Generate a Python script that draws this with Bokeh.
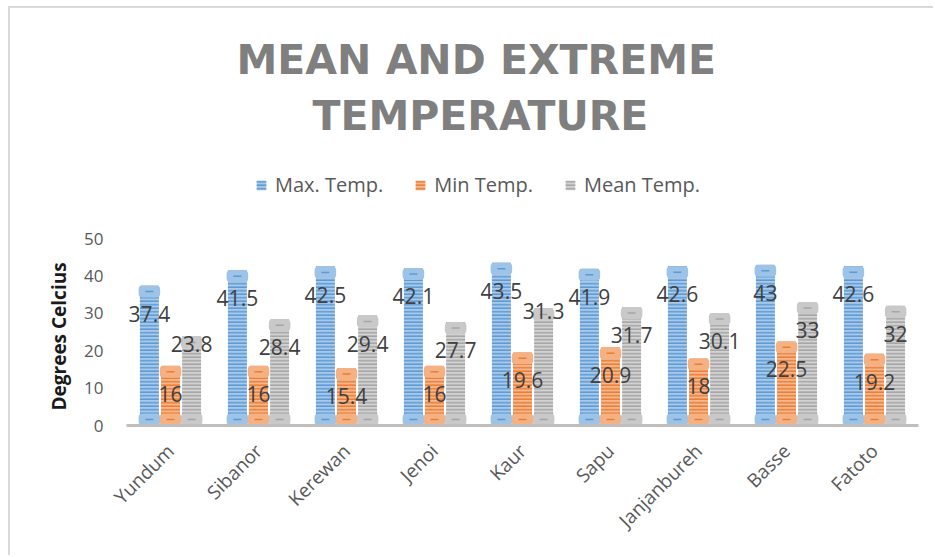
import math
from bokeh.plotting import figure
from bokeh.models import (ColumnDataSource, FactorRange, Range1d, Legend, LegendItem,
                          Title, FixedTicker)
from bokeh.transform import dodge
from bokeh.core.properties import value
from bokeh.embed import file_html
from bokeh.resources import INLINE

# ---------------- data ----------------
stations = ["Yundum", "Sibanor", "Kerewan", "Jenoi", "Kaur", "Sapu",
            "Janjanbureh", "Basse", "Fatoto"]
max_temp = [37.4, 41.5, 42.5, 42.1, 43.5, 41.9, 42.6, 43, 42.6]
min_temp = [16, 16, 15.4, 16, 19.6, 20.9, 18, 22.5, 19.2]
mean_temp = [23.8, 28.4, 29.4, 27.7, 31.3, 31.7, 30.1, 33, 32]
series_names = ["Max. Temp.", "Min Temp.", "Mean Temp."]
y_ticks = [0, 10, 20, 30, 40, 50]
title_lines = ["MEAN AND EXTREME", "TEMPERATURE"]
y_label = "Degrees Celcius"

# ---------------- styling / layout ----------------
series = [("max", max_temp), ("min", min_temp), ("mean", mean_temp)]
offsets = [-0.24, 0.0, 0.24]
bar_width = 0.215
cap_width = 0.245
styles = {
    "max": dict(dark="#5b9bd5", light="#a9c8ea", cap="#9dc3e6"),
    "min": dict(dark="#ed7d31", light="#f6b890", cap="#f4b183"),
    "mean": dict(dark="#a5a5a5", light="#d2d2d2", cap="#c9c9c9"),
}
px_per_unit = 187 / 50.0          # pixels per degree on the value axis
frame_px = 281                    # frame height (room for the legend above 50)
y_top = frame_px / px_per_unit
cap_px = 12
label_drop = 7.5                  # data labels sit this far below the bar top
label_lift = {("mean", "Yundum"): 5.6, ("mean", "Kaur"): 6.7}   # labels moved up

data = dict(station=stations)
for key, vals in series:
    data[key] = vals
    data[key + "_lbl"] = [f"{v:g}" for v in vals]
    data[key + "_lbly"] = [v - label_drop + label_lift.get((key, s), 0)
                           for s, v in zip(stations, vals)]
    data[key + "_capy"] = [v - (cap_px / 2) / px_per_unit for v in vals]
    data[key + "_base"] = [(cap_px / 2) / px_per_unit for _ in vals]
src = ColumnDataSource(data)

p = figure(x_range=FactorRange(factors=stations, range_padding=0),
           y_range=Range1d(0, y_top),
           width=925, height=549, output_backend="svg", toolbar_location=None,
           title=None,
           min_border_left=116, min_border_right=17, min_border_top=136,
           min_border_bottom=132,
           background_fill_color="white", border_fill_color="white",
           outline_line_color=None)
p.margin = (6, 0, 0, 8)
p.styles = {"border-top": "2px solid #d9d9d9", "border-left": "2px solid #d9d9d9"}

p.xgrid.visible = False
p.ygrid.visible = False

renderers = []
for (key, vals), off in zip(series, offsets):
    st = styles[key]
    xs = dodge("station", off, range=p.x_range)
    r = p.vbar(x=xs, top=key, width=bar_width, source=src,
               fill_color=st["light"], line_color=None,
               hatch_pattern="horizontal_line", hatch_color=st["dark"],
               hatch_scale=3.5, hatch_weight=1.6)
    renderers.append(r)
    for ycol in (key + "_capy", key + "_base"):
        p.rect(x=xs, y=ycol, width=cap_width, height=cap_px, height_units="screen",
               source=src, fill_color=st["cap"], line_color=None, border_radius=4)
        p.dash(x=xs, y=ycol, size=8, line_color=st["dark"], line_width=1.5, source=src)

for (key, vals), off in zip(series, offsets):
    xs = dodge("station", off, range=p.x_range)
    p.text(x=xs, y=key + "_lbly", text=key + "_lbl", source=src,
           text_align="center", text_baseline="middle",
           text_font=value("Open Sans"), text_font_size="21px", text_color="#404040")

# axes
p.yaxis.ticker = FixedTicker(ticks=y_ticks)
p.yaxis.axis_line_color = None
p.yaxis.major_tick_line_color = None
p.yaxis.minor_tick_line_color = None
p.yaxis.major_tick_out = 0
p.yaxis.major_tick_in = 0
p.yaxis.major_label_standoff = 23
p.yaxis.major_label_text_font = "Open Sans"
p.yaxis.major_label_text_font_size = "17px"
p.yaxis.major_label_text_color = "#595959"

# value-axis title, placed beside the 0-50 part of the axis
ytitle = Title(text=y_label, align="left", offset=15, text_font="Open Sans",
               text_font_style="bold", text_font_size="19px", text_color="#1a1a1a",
               standoff=20)
p.add_layout(ytitle, "left")

p.xaxis.axis_line_color = "#bfbfbf"
p.xaxis.axis_line_width = 3
p.xaxis.major_tick_line_color = None
p.xaxis.minor_tick_line_color = None
p.xaxis.major_tick_out = 0
p.xaxis.major_tick_in = 0
p.xaxis.major_label_orientation = math.pi / 4
p.xaxis.major_label_standoff = 22
p.xaxis.major_label_text_font = "Open Sans"
p.xaxis.major_label_text_font_size = "19px"
p.xaxis.major_label_text_color = "#595959"

# legend inside the (extended) frame, above the 50 line
legend = Legend(items=[LegendItem(label=n, renderers=[r]) for n, r in zip(series_names, renderers)],
                orientation="horizontal", location=(129, 227), padding=0,
                spacing=31, label_standoff=8, glyph_width=12, glyph_height=12,
                label_height=12,
                label_text_font="Open Sans", label_text_font_size="20px",
                label_text_color="#595959", border_line_color=None,
                background_fill_alpha=0)
p.add_layout(legend)

# title lines (nearest the plot added first)
t2 = Title(text=title_lines[1], align="left", offset=186, text_font="DejaVu Sans",
           text_font_style="bold", text_font_size="41px", text_color="#7f7f7f",
           standoff=10)
p.add_layout(t2, "above")
t1 = Title(text=title_lines[0], align="left", offset=110, text_font="DejaVu Sans",
           text_font_style="bold", text_font_size="41px", text_color="#7f7f7f",
           standoff=2)
p.add_layout(t1, "above")

open("out.html", "w").write(file_html(p, INLINE))
